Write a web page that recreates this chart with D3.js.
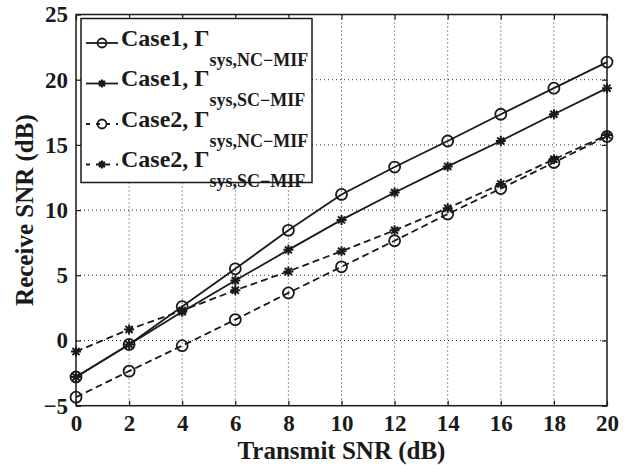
<!DOCTYPE html>
<html>
<head>
<meta charset="utf-8">
<script src="https://cdn.jsdelivr.net/npm/d3@7"></script>
<style>
  body { margin: 0; background: #fff; }
  text { font-family: "Liberation Serif", "Times New Roman", serif; font-weight: bold; fill: #1a1a1a; }
</style>
</head>
<body>
<div id="chart"></div>
<script>
var xVals = [0, 2, 4, 6, 8, 10, 12, 14, 16, 18, 20];
var case1NC = [-2.8, -0.3, 2.6, 5.5, 8.45, 11.2, 13.3, 15.3, 17.35, 19.35, 21.35];
var case1SC = [-2.8, -0.3, 2.2, 4.6, 6.95, 9.25, 11.35, 13.35, 15.3, 17.35, 19.35];
var case2NC = [-4.35, -2.35, -0.4, 1.6, 3.65, 5.65, 7.65, 9.7, 11.65, 13.65, 15.65];
var case2SC = [-0.85, 0.85, 2.3, 3.85, 5.3, 6.85, 8.45, 10.15, 12.0, 13.9, 15.75];
var xTicks = [0, 2, 4, 6, 8, 10, 12, 14, 16, 18, 20];
var yTicks = [-5, 0, 5, 10, 15, 20, 25];
var seriesNames = ["Case1", "Case1", "Case2", "Case2"];
var seriesSubs = ["sys,NC\u2212MIF", "sys,SC\u2212MIF", "sys,NC\u2212MIF", "sys,SC\u2212MIF"];

var W = 638, H = 465;
var pLeft = 76, pRight = 607, pTop = 14.5, pBottom = 405.7;
var ink = "#1a1a1a";

var svg = d3.select("#chart").append("svg")
  .attr("width", W)
  .attr("height", H);

var x = d3.scaleLinear().domain([0, 20]).range([pLeft, pRight]);
var y = d3.scaleLinear().domain([-5, 25]).range([pBottom, pTop]);

// grid
svg.append("g").selectAll("line").data(xTicks.slice(1, -1)).enter().append("line")
  .attr("x1", function(d) { return x(d); }).attr("x2", function(d) { return x(d); })
  .attr("y1", pTop).attr("y2", pBottom)
  .attr("stroke", "#333").attr("stroke-width", 1).attr("stroke-dasharray", "1,3");
svg.append("g").selectAll("line").data(yTicks.slice(1, -1)).enter().append("line")
  .attr("x1", pLeft).attr("x2", pRight)
  .attr("y1", function(d) { return y(d); }).attr("y2", function(d) { return y(d); })
  .attr("stroke", "#333").attr("stroke-width", 1).attr("stroke-dasharray", "1,3");

// axes (ticks inward, on all four sides)
var xAxis = svg.append("g").attr("transform", "translate(0," + pBottom + ")")
  .call(d3.axisBottom(x).tickValues(xTicks).tickSizeInner(-5).tickSizeOuter(0).tickPadding(9));
var yAxis = svg.append("g").attr("transform", "translate(" + pLeft + ",0)")
  .call(d3.axisLeft(y).tickValues(yTicks).tickSizeInner(-5).tickSizeOuter(0).tickPadding(8)
    .tickFormat(function(d) { return d < 0 ? "\u2212" + Math.abs(d) : d; }));
svg.append("g").attr("transform", "translate(0," + pTop + ")")
  .call(d3.axisTop(x).tickValues(xTicks).tickSizeInner(-5).tickSizeOuter(0).tickFormat(""));
svg.append("g").attr("transform", "translate(" + pRight + ",0)")
  .call(d3.axisRight(y).tickValues(yTicks).tickSizeInner(-5).tickSizeOuter(0).tickFormat(""));
svg.selectAll(".domain").remove();
svg.selectAll(".tick line").attr("stroke", ink).attr("stroke-width", 1.2);
xAxis.selectAll("text").attr("font-size", 23).attr("fill", ink);
yAxis.selectAll("text").attr("font-size", 23).attr("fill", ink);

svg.append("rect")
  .attr("x", pLeft).attr("y", pTop)
  .attr("width", pRight - pLeft).attr("height", pBottom - pTop)
  .attr("fill", "none").attr("stroke", ink).attr("stroke-width", 1.5);

// axis titles
svg.append("text")
  .attr("x", (pLeft + pRight) / 2).attr("y", 459)
  .attr("text-anchor", "middle").attr("font-size", 25)
  .text("Transmit SNR (dB)");
svg.append("text")
  .attr("transform", "translate(33," + ((pTop + pBottom) / 2) + ") rotate(-90)")
  .attr("text-anchor", "middle").attr("font-size", 25)
  .text("Receive SNR (dB)");

function drawStar(g, cx, cy, r) {
  var a = r * 0.7071;
  g.append("path")
    .attr("d", "M" + (cx - r) + "," + cy + "L" + (cx + r) + "," + cy +
      "M" + cx + "," + (cy - r) + "L" + cx + "," + (cy + r) +
      "M" + (cx - a) + "," + (cy - a) + "L" + (cx + a) + "," + (cy + a) +
      "M" + (cx - a) + "," + (cy + a) + "L" + (cx + a) + "," + (cy - a))
    .attr("stroke", ink).attr("stroke-width", 2).attr("fill", "none");
}
function drawCircle(g, cx, cy, r) {
  g.append("circle").attr("cx", cx).attr("cy", cy).attr("r", r)
    .attr("fill", "none").attr("stroke", ink).attr("stroke-width", 1.8);
}

var series = [
  { vals: case1NC, dash: null, marker: "o" },
  { vals: case1SC, dash: null, marker: "*" },
  { vals: case2NC, dash: "7,4", marker: "o" },
  { vals: case2SC, dash: "7,4", marker: "*" }
];

var line = d3.line()
  .x(function(d, i) { return x(xVals[i]); })
  .y(function(d) { return y(d); });

series.forEach(function(s) {
  var g = svg.append("g");
  g.append("path").datum(s.vals)
    .attr("d", line)
    .attr("fill", "none").attr("stroke", ink).attr("stroke-width", 1.8)
    .attr("stroke-dasharray", s.dash);
  s.vals.forEach(function(v, i) {
    if (s.marker == "o") drawCircle(g, x(xVals[i]), y(v), 5.5);
    else drawStar(g, x(xVals[i]), y(v), 5);
  });
});

// legend
var lg = svg.append("g");
lg.append("rect")
  .attr("x", 81).attr("y", 18.5).attr("width", 231).attr("height", 164)
  .attr("fill", "#fff").attr("stroke", ink).attr("stroke-width", 1.5);
series.forEach(function(s, i) {
  var ly = 43 + i * 40.5;
  lg.append("line")
    .attr("x1", 86).attr("x2", 118).attr("y1", ly).attr("y2", ly)
    .attr("stroke", ink).attr("stroke-width", 1.8)
    .attr("stroke-dasharray", s.dash ? "4,6" : null);
  if (s.marker == "o") drawCircle(lg, 102, ly, 4.5);
  else drawStar(lg, 102, ly, 4);
  var t = lg.append("text").attr("x", 121).attr("y", ly + 2.5).attr("font-size", 24);
  t.append("tspan").text(seriesNames[i] + ", \u0393");
  t.append("tspan").attr("dy", 20).attr("font-size", 18).text(seriesSubs[i]);
});
</script>
</body>
</html>
